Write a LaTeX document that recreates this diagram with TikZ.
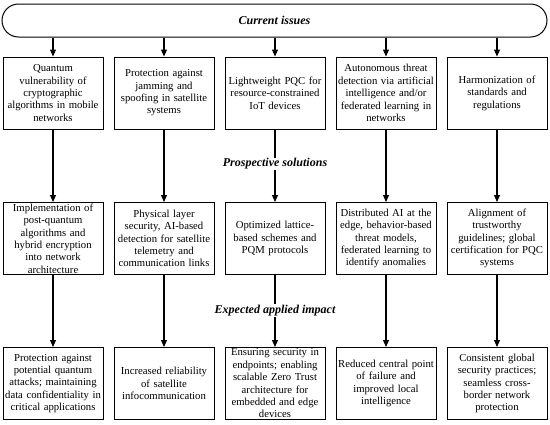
\documentclass[tikz,border=0pt]{standalone}
\usepackage{fontspec}
\setmainfont{Liberation Serif}
\usetikzlibrary{arrows.meta}
\tikzset{
  box/.style={draw, line width=1pt, minimum width=100pt, minimum height=72pt,
    text width=97pt, align=center, inner xsep=1pt, inner ysep=0.5pt,
    font=\fontsize{10.7}{12.4}\selectfont},
  bar/.style={draw, line width=1pt, minimum width=545pt, minimum height=33pt,
    rounded corners=16.5pt, font=\fontsize{12}{14}\selectfont\bfseries\itshape},
  lab/.style={fill=white, inner sep=1pt, font=\fontsize{12}{14}\selectfont\bfseries\itshape},
  arr/.style={line width=1.1pt, -{Triangle[length=7pt,width=6pt]}}
}
\begin{document}
\begin{tikzpicture}[x=1pt,y=-1pt]
\useasboundingbox (0,0) rectangle (550,424);
\node[bar] (top) at (274.5,20.5) {Current issues};

\node[box] (a1) at (53,93) {Quantum\\vulnerability of\\cryptographic\\algorithms in mobile\\networks};
\node[box] (a2) at (164,93) {Protection against\\jamming and\\spoofing in satellite\\systems};
\node[box] (a3) at (275,93) {Lightweight PQC for\\resource-constrained\\IoT devices};
\node[box] (a4) at (386,93) {Autonomous threat\\detection via artificial\\intelligence and/or\\federated learning in\\networks};
\node[box] (a5) at (497,93) {Harmonization of\\standards and\\regulations};

\node[box] (b1) at (53,238.5) {Implementation of\\post-quantum\\algorithms and\\hybrid encryption\\into network\\architecture};
\node[box] (b2) at (164,238.5) {Physical layer\\security, AI-based\\detection for satellite\\telemetry and\\communication links};
\node[box] (b3) at (275,238.5) {Optimized lattice-\\based schemes and\\PQM protocols};
\node[box] (b4) at (386,238.5) {Distributed AI at the\\edge, behavior-based\\threat models,\\federated learning to\\identify anomalies};
\node[box] (b5) at (497,238.5) {Alignment of\\trustworthy\\guidelines; global\\certification for PQC\\systems};

\node[box] (c1) at (53,383.5) {Protection against\\potential quantum\\attacks; maintaining\\data confidentiality in\\critical applications};
\node[box] (c2) at (164,383.5) {Increased reliability\\of satellite\\infocommunication};
\node[box] (c3) at (275,383.5) {Ensuring security in\\endpoints; enabling\\scalable Zero Trust\\architecture for\\embedded and edge\\devices};
\node[box] (c4) at (386,383.5) {Reduced central point\\of failure and\\improved local\\intelligence};
\node[box] (c5) at (497,383.5) {Consistent global\\security practices;\\seamless cross-\\border network\\protection};

\foreach \i in {1,...,5}{
  \draw[arr] (top.south -| a\i.north) -- (a\i.north);
  \draw[arr] (a\i.south) -- (b\i.north);
  \draw[arr] (b\i.south) -- (c\i.north);
}
\node[lab] (l1) at (275,164) {Prospective solutions};
\node[lab] (l2) at (275,310.5) {Expected applied impact};
\end{tikzpicture}
\end{document}
